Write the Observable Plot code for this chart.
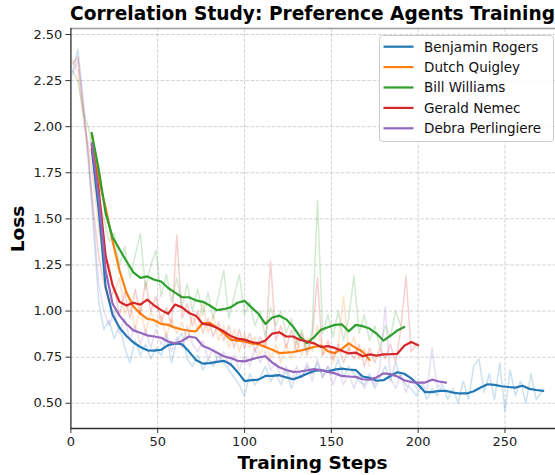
<!DOCTYPE html>
<html><head><meta charset="utf-8">
<script src="https://cdn.jsdelivr.net/npm/d3@7"></script>
<script src="https://cdn.jsdelivr.net/npm/@observablehq/plot@0.6"></script>
<style>
html,body{margin:0;padding:0;background:#fff;}
#chart svg{font-family:"DejaVu Sans",sans-serif;display:block;}
</style></head><body><div id="chart"></div>
<script>
const chartTitle = "Correlation Study: Preference Agents Training";
const xLabel = "Training Steps";
const yLabel = "Loss";
const seriesNames = ["Benjamin Rogers", "Dutch Quigley", "Bill Williams", "Gerald Nemec", "Debra Perlingiere"];
const seriesColors = ["#1f77b4", "#ff7f0e", "#2ca02c", "#d62728", "#9467bd"];
const xTicks = [0, 50, 100, 150, 200, 250];
const yTicks = [0.5, 0.75, 1.0, 1.25, 1.5, 1.75, 2.0, 2.25, 2.5];

// raw loss: first step 1, one value every 3 steps
const rawStart = 1, rawStride = 3;
const rawBenjamin = [2.30,2.42,2.15,1.85,1.45,1.05,0.90,0.95,0.85,0.92,
 0.80,0.72,0.84,0.76,0.82,0.74,0.80,0.76,0.86,0.72,
 0.84,0.88,0.74,0.70,0.76,0.68,0.74,0.70,0.76,0.72,
 0.68,0.64,0.60,0.54,0.66,0.60,0.64,0.70,0.62,0.66,
 0.60,0.68,0.58,0.66,0.64,0.70,0.66,0.72,0.64,0.70,
 0.66,0.74,0.64,0.70,0.66,0.62,0.60,0.66,0.58,0.64,
 0.70,0.62,0.72,0.64,0.60,0.58,0.54,0.60,0.52,0.58,
 0.54,0.60,0.52,0.58,0.50,0.62,0.52,0.70,0.74,0.56,
 0.66,0.52,0.72,0.46,0.68,0.54,0.62,0.50,0.66,0.52,
 0.56];
const rawDutch = [2.36,2.30,2.05,1.90,1.70,1.45,1.30,1.25,1.10,1.18,
 0.98,1.05,0.90,1.02,0.88,1.00,0.92,0.98,0.86,0.96,
 0.88,0.94,0.84,0.98,0.90,1.05,0.88,0.98,0.84,0.92,
 0.80,0.90,0.78,0.88,0.80,0.86,0.76,0.84,0.74,0.82,
 0.72,0.82,0.74,0.84,0.76,0.86,0.78,0.92,0.76,0.80,
 0.72,0.82,1.08,0.78,0.86,0.74,0.80,0.70];
const rawBill = [2.30,2.25,2.08,2.00,1.85,1.60,1.50,1.38,1.42,1.25,
 1.35,1.18,1.30,1.42,1.12,1.25,1.33,1.08,1.20,1.05,
 1.18,1.02,1.15,1.00,1.12,0.98,1.10,0.96,1.08,1.22,
 0.96,1.08,1.20,0.98,1.05,0.92,1.00,0.86,1.02,0.92,
 1.00,0.88,0.96,0.82,0.90,0.78,0.90,1.60,0.88,0.98,
 0.86,1.00,0.84,0.96,1.19,0.88,0.98,0.84,0.92,0.80,
 0.92,0.86,1.00,0.92];
const rawGerald = [2.34,2.38,2.12,1.85,1.55,1.30,1.15,1.05,1.12,0.98,
 1.10,0.96,1.12,0.98,1.16,1.00,1.08,0.94,1.02,0.92,
 1.41,0.96,1.04,0.92,1.00,0.88,0.96,0.86,0.94,0.84,
 0.92,0.80,0.90,0.80,0.88,0.78,0.86,0.80,1.27,0.84,
 0.92,0.80,0.90,0.78,0.88,0.76,0.86,1.18,0.76,0.84,
 0.74,0.82,0.72,0.80,0.74,0.82,0.70,0.80,0.72,0.80,
 0.74,0.82,0.72,0.90,1.19,0.78,0.82];
const rawDebra = [2.28,2.36,2.10,1.80,1.50,1.15,1.00,0.92,1.00,0.88,
 0.96,0.84,0.92,0.82,0.90,0.80,0.90,0.82,0.88,0.78,
 0.86,0.80,0.92,0.82,0.78,0.84,0.74,0.80,0.72,0.78,
 0.70,0.76,0.68,0.76,0.70,0.80,0.72,0.78,0.68,0.72,
 0.64,0.70,0.62,0.70,0.64,0.72,0.62,0.74,0.64,0.70,
 0.60,0.68,0.60,0.66,0.58,0.66,0.58,0.64,0.60,0.70,
 1.02,0.64,0.58,0.66,0.56,0.64,0.58,0.62,0.56,0.80,
 0.58,0.62];

// smoothed loss: first step 12, one value every 4 steps
const smoothStart = 12, smoothStride = 4;
const smoothBenjamin = [1.88,1.55,1.13,0.98,0.91,0.865,0.83,0.805,0.787,0.785,
 0.79,0.815,0.825,0.82,0.78,0.735,0.715,0.718,0.724,0.73,
 0.712,0.67,0.62,0.625,0.628,0.648,0.648,0.652,0.64,0.63,
 0.643,0.66,0.675,0.68,0.672,0.682,0.688,0.683,0.68,0.645,
 0.638,0.622,0.625,0.648,0.668,0.66,0.635,0.60,0.56,0.56,
 0.567,0.567,0.558,0.553,0.553,0.565,0.585,0.603,0.60,0.592,
 0.588,0.585,0.595,0.578,0.572,0.567];
const smoothDutch = [1.965,1.72,1.56,1.38,1.22,1.10,1.025,0.986,0.958,0.95,
 0.93,0.925,0.91,0.90,0.893,0.89,0.935,0.935,0.91,0.88,
 0.845,0.84,0.835,0.825,0.82,0.805,0.79,0.772,0.775,0.778,
 0.785,0.795,0.805,0.812,0.782,0.772,0.795,0.825,0.80,0.78,
 0.735];
const smoothBill = [1.965,1.77,1.53,1.40,1.335,1.27,1.21,1.18,1.188,1.17,
 1.16,1.125,1.10,1.075,1.075,1.058,1.05,1.03,1.005,1.01,
 1.02,1.045,1.055,1.02,0.985,0.93,0.965,0.975,0.955,0.915,
 0.86,0.826,0.858,0.898,0.912,0.925,0.928,0.89,0.925,0.918,
 0.905,0.878,0.84,0.866,0.895,0.914];
const smoothGerald = [1.90,1.66,1.30,1.14,1.05,1.03,1.045,1.035,1.062,1.03,
 1.005,0.985,1.035,1.02,0.99,0.975,0.93,0.925,0.91,0.89,
 0.865,0.85,0.845,0.832,0.825,0.84,0.878,0.885,0.862,0.862,
 0.843,0.835,0.825,0.805,0.81,0.80,0.785,0.77,0.775,0.755,
 0.765,0.758,0.765,0.766,0.768,0.812,0.832,0.814];
const smoothDebra = [1.91,1.62,1.22,1.04,0.975,0.93,0.895,0.882,0.868,0.862,
 0.855,0.835,0.825,0.838,0.862,0.855,0.81,0.795,0.775,0.755,
 0.745,0.73,0.727,0.738,0.748,0.755,0.72,0.695,0.68,0.67,
 0.672,0.678,0.685,0.68,0.67,0.662,0.648,0.645,0.643,0.63,
 0.628,0.64,0.662,0.658,0.645,0.625,0.615,0.612,0.612,0.628,
 0.618,0.612];

const rawSeries = [rawBenjamin, rawDutch, rawBill, rawGerald, rawDebra];
const smoothSeries = [smoothBenjamin, smoothDutch, smoothBill, smoothGerald, smoothDebra];

const rawRows = [], smoothRows = [];
seriesNames.forEach((name, s) => {
  rawSeries[s].forEach((v, i) => rawRows.push({name, s, step: rawStart + rawStride * i, loss: v}));
  smoothSeries[s].forEach((v, i) => smoothRows.push({name, s, step: smoothStart + smoothStride * i, loss: v}));
});

const W = 555, H = 475;
const yDomain = [0.363, 2.5325];
const gridStyle = {stroke: "#b0b0b0", strokeOpacity: 0.7, strokeWidth: 0.8, strokeDasharray: "3.7,1.6"};

const lineMarks = [];
seriesNames.forEach((name, s) => {
  lineMarks.push(Plot.line(rawRows.filter(d => d.s === s), {x: "step", y: "loss", stroke: seriesColors[s], strokeOpacity: 0.22, strokeWidth: 1.5}));
  lineMarks.push(Plot.line(smoothRows.filter(d => d.s === s), {x: "step", y: "loss", stroke: seriesColors[s], strokeWidth: 2.2}));
});

const chart = Plot.plot({
  width: W, height: H,
  marginLeft: 70.4, marginRight: 0, marginTop: 28, marginBottom: 47,
  x: {domain: [0, 279.1]},
  y: {domain: yDomain},
  style: {fontFamily: "DejaVu Sans", fontSize: "13px", background: "#fff", color: "#222"},
  marks: [
    Plot.ruleX(xTicks, gridStyle),
    Plot.ruleY(yTicks, gridStyle),
    ...lineMarks,
    Plot.ruleY([yDomain[1]], {stroke: "#999", strokeWidth: 1.5}),
    Plot.ruleX([0], {stroke: "#333", strokeWidth: 1.3}),
    Plot.ruleY([yDomain[0]], {stroke: "#333", strokeWidth: 1.3}),
    Plot.axisX({ticks: xTicks, tickSize: 5, tickPadding: 3, tickFormat: d => String(d), fontSize: 13, label: null, stroke: "#333"}),
    Plot.axisY({ticks: yTicks, tickSize: 5, tickPadding: 3.5, tickFormat: d3.format(".2f"), fontSize: 13, label: null, stroke: "#333"})
  ]
});
document.getElementById("chart").appendChild(chart);

const svg = d3.select(chart);
const cx = 312.5;
svg.append("text").attr("x", cx).attr("y", 20).attr("text-anchor", "middle")
  .attr("font-family", "DejaVu Sans").attr("font-weight", "bold").attr("font-size", 18.6).attr("fill", "#000").text(chartTitle);
svg.append("text").attr("x", cx).attr("y", 469).attr("text-anchor", "middle")
  .attr("font-family", "DejaVu Sans").attr("font-weight", "bold").attr("font-size", 18.5).attr("fill", "#000").text(xLabel);
svg.append("text").attr("transform", "translate(24,229) rotate(-90)").attr("text-anchor", "middle")
  .attr("font-family", "DejaVu Sans").attr("font-weight", "bold").attr("font-size", 18.5).attr("fill", "#000").text(yLabel);

const lg = svg.append("g").attr("text-anchor", "start");
lg.append("rect").attr("x", 379.5).attr("y", 35.5).attr("width", 174).attr("height", 106).attr("rx", 3)
  .attr("fill", "#fff").attr("fill-opacity", 0.85).attr("stroke", "#ccc");
seriesNames.forEach((name, i) => {
  const y = 46.7 + 20.4 * i;
  lg.append("line").attr("x1", 383.5).attr("x2", 413.5).attr("y1", y).attr("y2", y)
    .attr("stroke", seriesColors[i]).attr("stroke-width", 2.2);
  lg.append("text").attr("x", 424).attr("y", y).attr("dy", "0.36em").attr("text-anchor", "start")
    .attr("font-family", "DejaVu Sans").attr("font-size", 13.5).attr("fill", "#111").text(name);
});
</script></body></html>
